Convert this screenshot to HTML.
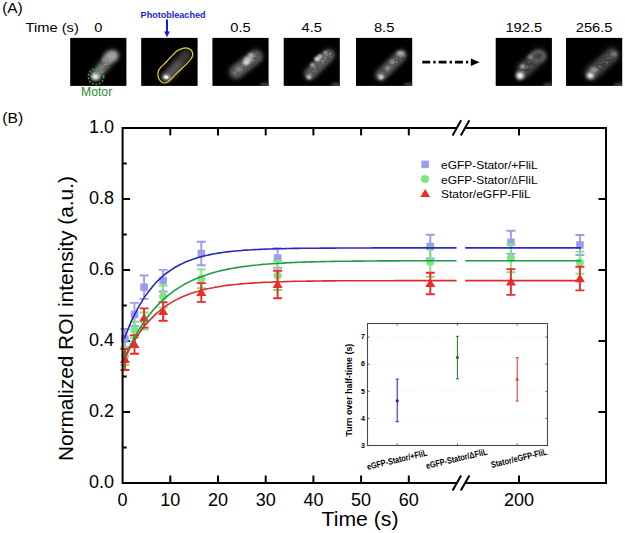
<!DOCTYPE html>
<html><head><meta charset="utf-8"><style>
html,body{margin:0;padding:0;background:#fff;}
svg{display:block;}
text{font-family:"Liberation Sans",sans-serif;fill:#000;}
.tl{font-size:18px;}
.al{font-size:20px;}
.pl{font-size:14px;}
.lg{font-size:11.5px;}
.it{font-size:7px;font-weight:bold;}
.iyl{font-size:9px;font-weight:bold;}
.ixl{font-size:9px;font-weight:bold;}
.pa{font-size:14px;}
.pt{font-size:13px;}
.pb{font-size:8.8px;font-weight:bold;fill:#1e1ec8;}
.mo{font-size:12.4px;fill:#2f8a2f;}
</style></head><body>
<svg width="625" height="533" viewBox="0 0 625 533">
<text transform="translate(2.2,13.4) scale(1.1,1)" class="pa">(A)</text>
<text transform="translate(25.5,31.6) scale(1.13,1)" class="pt">Time (s)</text>
<clipPath id="cp0"><rect x="70.2" y="37.9" width="56.2" height="48"/></clipPath>
<rect x="70.2" y="37.9" width="56.2" height="48" fill="#000"/>
<g clip-path="url(#cp0)">
<line x1="97.0" y1="74.0" x2="113.0" y2="55.0" stroke="#525252" stroke-width="11.0" stroke-linecap="round" style="filter:blur(2.9px)"/>
<line x1="97.0" y1="74.0" x2="113.0" y2="55.0" stroke="#636363" stroke-width="8.2" stroke-linecap="round" style="filter:blur(1.5px)"/>
<g style="filter:blur(0.3px)"><circle cx="104.5" cy="64.3" r="0.6" fill="#c4c4c4"/><circle cx="96.2" cy="75.6" r="0.7" fill="#909090"/><circle cx="99.0" cy="70.5" r="0.4" fill="#737373"/><circle cx="103.8" cy="65.9" r="0.4" fill="#838383"/><circle cx="99.3" cy="70.7" r="0.5" fill="#5f5f5f"/><circle cx="111.9" cy="57.2" r="0.6" fill="#737373"/><circle cx="110.9" cy="60.8" r="0.7" fill="#6d6d6d"/><circle cx="112.6" cy="58.1" r="0.5" fill="#888888"/><circle cx="115.0" cy="58.0" r="0.6" fill="#585858"/><circle cx="94.1" cy="73.5" r="0.7" fill="#616161"/><circle cx="99.1" cy="72.3" r="0.6" fill="#b5b5b5"/><circle cx="102.1" cy="67.0" r="0.6" fill="#bfbfbf"/><circle cx="104.6" cy="63.3" r="0.5" fill="#565656"/><circle cx="97.8" cy="76.2" r="0.7" fill="#808080"/><circle cx="100.5" cy="64.8" r="0.6" fill="#797979"/><circle cx="110.5" cy="58.6" r="0.7" fill="#7c7c7c"/><circle cx="100.9" cy="70.1" r="0.7" fill="#5c5c5c"/><circle cx="112.9" cy="60.1" r="0.7" fill="#6a6a6a"/><circle cx="111.1" cy="57.6" r="0.6" fill="#9b9b9b"/><circle cx="105.0" cy="64.3" r="0.5" fill="#919191"/><circle cx="106.7" cy="64.4" r="0.6" fill="#868686"/><circle cx="93.9" cy="73.5" r="0.4" fill="#6c6c6c"/><circle cx="114.2" cy="58.2" r="0.7" fill="#777777"/><circle cx="98.4" cy="74.2" r="0.5" fill="#585858"/><circle cx="98.7" cy="72.4" r="0.4" fill="#848484"/><circle cx="108.7" cy="59.4" r="0.5" fill="#9b9b9b"/><circle cx="95.0" cy="74.6" r="0.5" fill="#686868"/><circle cx="99.9" cy="74.0" r="0.4" fill="#868686"/><circle cx="108.8" cy="60.7" r="0.4" fill="#dfdfdf"/><circle cx="110.8" cy="57.8" r="0.4" fill="#bbbbbb"/><circle cx="103.6" cy="67.4" r="0.5" fill="#a8a8a8"/><circle cx="95.0" cy="73.3" r="0.7" fill="#9d9d9d"/><circle cx="104.0" cy="71.2" r="0.5" fill="#6c6c6c"/><circle cx="109.0" cy="58.4" r="0.5" fill="#575757"/><circle cx="103.9" cy="60.8" r="0.7" fill="#797979"/><circle cx="109.0" cy="59.9" r="0.5" fill="#929292"/><circle cx="100.7" cy="72.3" r="0.5" fill="#5d5d5d"/><circle cx="98.7" cy="74.6" r="0.5" fill="#808080"/><circle cx="98.0" cy="70.2" r="0.7" fill="#9d9d9d"/><circle cx="99.7" cy="66.3" r="0.6" fill="#7d7d7d"/><circle cx="112.1" cy="53.7" r="0.7" fill="#979797"/><circle cx="110.7" cy="59.2" r="0.7" fill="#818181"/><circle cx="100.4" cy="66.8" r="0.7" fill="#7f7f7f"/><circle cx="113.0" cy="60.0" r="0.5" fill="#5f5f5f"/><circle cx="109.5" cy="57.3" r="0.6" fill="#6b6b6b"/><circle cx="95.2" cy="72.5" r="0.7" fill="#757575"/><circle cx="112.8" cy="54.5" r="0.5" fill="#c6c6c6"/><circle cx="113.8" cy="52.9" r="0.4" fill="#6c6c6c"/><circle cx="101.9" cy="72.0" r="0.4" fill="#919191"/><circle cx="100.1" cy="70.0" r="0.4" fill="#bababa"/><circle cx="106.5" cy="62.0" r="0.5" fill="#636363"/><circle cx="100.4" cy="71.7" r="0.7" fill="#919191"/><circle cx="109.8" cy="61.2" r="0.5" fill="#868686"/><circle cx="99.4" cy="67.3" r="0.4" fill="#565656"/><circle cx="113.9" cy="53.1" r="0.6" fill="#b0b0b0"/><circle cx="112.6" cy="53.8" r="0.5" fill="#7a7a7a"/><circle cx="102.2" cy="68.6" r="0.6" fill="#acacac"/><circle cx="103.2" cy="71.1" r="0.5" fill="#7d7d7d"/><circle cx="98.4" cy="72.4" r="0.7" fill="#6d6d6d"/><circle cx="111.2" cy="52.2" r="0.7" fill="#7a7a7a"/><circle cx="109.8" cy="56.0" r="0.4" fill="#7e7e7e"/><circle cx="116.2" cy="55.9" r="0.6" fill="#5f5f5f"/><circle cx="111.4" cy="56.2" r="0.5" fill="#898989"/><circle cx="96.0" cy="71.5" r="0.7" fill="#636363"/><circle cx="104.0" cy="67.5" r="0.4" fill="#535353"/><circle cx="105.6" cy="63.9" r="0.6" fill="#a1a1a1"/><circle cx="110.3" cy="61.7" r="0.4" fill="#6f6f6f"/><circle cx="102.5" cy="63.2" r="0.5" fill="#696969"/><circle cx="100.5" cy="74.0" r="0.7" fill="#565656"/><circle cx="111.3" cy="62.3" r="0.5" fill="#5f5f5f"/><circle cx="110.3" cy="59.7" r="0.7" fill="#c3c3c3"/><circle cx="114.4" cy="54.5" r="0.4" fill="#787878"/><circle cx="100.1" cy="71.4" r="0.7" fill="#5f5f5f"/><circle cx="110.1" cy="61.7" r="0.5" fill="#747474"/><circle cx="100.3" cy="73.6" r="0.4" fill="#9d9d9d"/><circle cx="111.9" cy="58.3" r="0.5" fill="#bababa"/><circle cx="111.1" cy="51.7" r="0.7" fill="#656565"/><circle cx="109.6" cy="62.1" r="0.5" fill="#a2a2a2"/><circle cx="113.2" cy="53.0" r="0.7" fill="#848484"/><circle cx="97.2" cy="71.0" r="0.4" fill="#a9a9a9"/><circle cx="96.1" cy="71.9" r="0.4" fill="#8f8f8f"/><circle cx="108.2" cy="62.3" r="0.7" fill="#6c6c6c"/><circle cx="101.2" cy="69.7" r="0.5" fill="#ababab"/><circle cx="101.6" cy="71.4" r="0.7" fill="#9c9c9c"/><circle cx="114.4" cy="54.0" r="0.5" fill="#cfcfcf"/><circle cx="110.7" cy="58.8" r="0.5" fill="#7d7d7d"/><circle cx="99.8" cy="75.4" r="0.4" fill="#6f6f6f"/><circle cx="98.0" cy="72.8" r="0.6" fill="#8f8f8f"/><circle cx="103.5" cy="65.5" r="0.5" fill="#909090"/><circle cx="111.8" cy="59.2" r="0.5" fill="#8b8b8b"/><circle cx="114.1" cy="53.2" r="0.7" fill="#949494"/><circle cx="107.5" cy="62.0" r="0.5" fill="#5e5e5e"/><circle cx="102.3" cy="66.6" r="0.5" fill="#c6c6c6"/><circle cx="108.4" cy="64.1" r="0.7" fill="#868686"/><circle cx="106.7" cy="66.2" r="0.6" fill="#797979"/><circle cx="106.8" cy="61.0" r="0.6" fill="#a3a3a3"/><circle cx="115.5" cy="56.3" r="0.7" fill="#787878"/><circle cx="111.9" cy="58.0" r="0.5" fill="#737373"/><circle cx="111.3" cy="56.8" r="0.5" fill="#676767"/><circle cx="107.1" cy="65.8" r="0.5" fill="#5f5f5f"/><circle cx="107.9" cy="59.5" r="0.6" fill="#9e9e9e"/><circle cx="107.0" cy="65.7" r="0.4" fill="#7c7c7c"/><circle cx="111.5" cy="61.6" r="0.5" fill="#626262"/><circle cx="100.3" cy="71.0" r="0.4" fill="#c1c1c1"/><circle cx="110.8" cy="55.1" r="0.4" fill="#b1b1b1"/></g>
<ellipse cx="111.0" cy="56.5" rx="7.0" ry="5.0" fill="#a5a5a5" style="filter:blur(2.2px)"/>
<ellipse cx="106.0" cy="60.0" rx="4.0" ry="3.0" fill="#8c8c8c" style="filter:blur(1.5px)"/>
<ellipse cx="101.0" cy="68.0" rx="3.0" ry="3.0" fill="#787878" style="filter:blur(1.5px)"/>
<ellipse cx="95.5" cy="76.5" rx="5.0" ry="4.2" fill="#a5a5a5" style="filter:blur(1.8px)"/>
<ellipse cx="95.3" cy="76.7" rx="2.6" ry="2.1" fill="#f5f5f5" style="filter:blur(0.9px)"/>
</g>
<circle cx="96" cy="76.6" r="7.8" fill="none" stroke="#2fb52f" stroke-width="1.3" stroke-dasharray="2 1.6"/>
<clipPath id="cp1"><rect x="141.2" y="37.9" width="56.4" height="48"/></clipPath>
<rect x="141.2" y="37.9" width="56.4" height="48" fill="#000"/>
<g clip-path="url(#cp1)">
<line x1="167" y1="77" x2="186" y2="55" stroke="#3a3a3a" stroke-width="11" stroke-linecap="round" style="filter:blur(2.5px)"/>
<line x1="167" y1="77" x2="178" y2="65" stroke="#5a5a5a" stroke-width="7" stroke-linecap="round" style="filter:blur(2px)"/>
<ellipse cx="166.3" cy="77" rx="4" ry="3" fill="#9a9a9a" style="filter:blur(1.3px)"/>
<ellipse cx="166.2" cy="77.2" rx="2.2" ry="1.6" fill="#ffffff" style="filter:blur(0.7px)"/>
</g>
<path d="M158.4,70.9 C157.9,72.3 157.8,74.1 158.0,75.6 C158.2,77.1 158.6,78.5 159.4,79.7 C160.2,80.9 161.7,82.4 163.0,82.8 C164.3,83.2 165.8,83.0 167.2,82.3 C168.6,81.6 169.7,80.3 171.4,78.7 C173.1,77.1 175.3,74.6 177.6,72.4 C179.8,70.2 182.8,67.8 184.9,65.7 C187.0,63.6 188.8,61.7 190.1,60.0 C191.4,58.3 192.4,56.9 192.7,55.3 C192.9,53.7 192.4,51.8 191.6,50.6 C190.8,49.4 189.5,48.7 188.0,48.3 C186.5,47.9 184.5,47.9 182.8,48.3 C181.1,48.7 179.3,49.4 177.6,50.6 C175.9,51.8 174.3,53.4 172.4,55.3 C170.5,57.2 168.1,60.0 166.2,62.0 C164.3,64.0 162.3,65.7 161.0,67.2 C159.7,68.7 158.9,69.5 158.4,70.9 Z" fill="none" stroke="#e2d425" stroke-width="1.2"/>
<clipPath id="cp2"><rect x="212.4" y="37.9" width="56.2" height="48"/></clipPath>
<rect x="212.4" y="37.9" width="56.2" height="48" fill="#000"/>
<g clip-path="url(#cp2)">
<line x1="236.0" y1="72.0" x2="256.0" y2="56.5" stroke="#474747" stroke-width="14.4" stroke-linecap="round" style="filter:blur(2.3px)"/>
<line x1="236.0" y1="72.0" x2="256.0" y2="56.5" stroke="#555555" stroke-width="10.8" stroke-linecap="round" style="filter:blur(1.5px)"/>
<g style="filter:blur(0.3px)"><circle cx="255.9" cy="60.4" r="0.6" fill="#4a4a4a"/><circle cx="249.4" cy="63.4" r="0.6" fill="#545454"/><circle cx="243.5" cy="64.4" r="0.6" fill="#989898"/><circle cx="257.1" cy="56.3" r="0.5" fill="#676767"/><circle cx="257.8" cy="60.0" r="0.6" fill="#5f5f5f"/><circle cx="254.6" cy="62.3" r="0.5" fill="#656565"/><circle cx="254.4" cy="52.2" r="0.7" fill="#4b4b4b"/><circle cx="245.3" cy="65.3" r="0.5" fill="#a6a6a6"/><circle cx="248.7" cy="67.6" r="0.5" fill="#555555"/><circle cx="255.3" cy="56.4" r="0.6" fill="#a3a3a3"/><circle cx="251.3" cy="60.0" r="0.4" fill="#727272"/><circle cx="254.4" cy="54.6" r="0.7" fill="#6d6d6d"/><circle cx="246.2" cy="64.4" r="0.6" fill="#8a8a8a"/><circle cx="239.2" cy="64.8" r="0.6" fill="#626262"/><circle cx="247.9" cy="59.1" r="0.4" fill="#6f6f6f"/><circle cx="236.7" cy="71.8" r="0.7" fill="#696969"/><circle cx="233.7" cy="71.5" r="0.4" fill="#777777"/><circle cx="250.7" cy="64.6" r="0.4" fill="#4b4b4b"/><circle cx="234.3" cy="72.5" r="0.7" fill="#909090"/><circle cx="257.7" cy="59.4" r="0.7" fill="#5e5e5e"/><circle cx="236.0" cy="71.1" r="0.7" fill="#5a5a5a"/><circle cx="247.2" cy="61.6" r="0.6" fill="#535353"/><circle cx="255.1" cy="53.2" r="0.6" fill="#505050"/><circle cx="234.9" cy="73.8" r="0.4" fill="#535353"/><circle cx="232.1" cy="69.5" r="0.4" fill="#484848"/><circle cx="239.1" cy="68.7" r="0.5" fill="#828282"/><circle cx="244.4" cy="66.0" r="0.4" fill="#555555"/><circle cx="246.2" cy="63.5" r="0.5" fill="#8b8b8b"/><circle cx="244.5" cy="65.6" r="0.6" fill="#585858"/><circle cx="244.2" cy="66.0" r="0.4" fill="#5a5a5a"/><circle cx="252.2" cy="57.2" r="0.6" fill="#8b8b8b"/><circle cx="247.0" cy="60.0" r="0.7" fill="#525252"/><circle cx="235.9" cy="75.1" r="0.4" fill="#525252"/><circle cx="255.5" cy="59.7" r="0.4" fill="#5f5f5f"/><circle cx="243.7" cy="65.8" r="0.4" fill="#8b8b8b"/><circle cx="234.1" cy="70.0" r="0.5" fill="#767676"/><circle cx="237.9" cy="74.7" r="0.4" fill="#565656"/><circle cx="243.1" cy="65.9" r="0.7" fill="#747474"/><circle cx="233.9" cy="67.4" r="0.4" fill="#484848"/><circle cx="252.0" cy="64.1" r="0.6" fill="#4d4d4d"/><circle cx="242.2" cy="66.5" r="0.7" fill="#686868"/><circle cx="246.5" cy="63.5" r="0.7" fill="#9d9d9d"/><circle cx="243.8" cy="62.0" r="0.5" fill="#606060"/><circle cx="256.7" cy="57.3" r="0.7" fill="#525252"/><circle cx="251.5" cy="62.9" r="0.5" fill="#626262"/><circle cx="237.0" cy="71.9" r="0.7" fill="#949494"/><circle cx="236.4" cy="71.9" r="0.6" fill="#6b6b6b"/><circle cx="255.2" cy="56.5" r="0.6" fill="#757575"/><circle cx="238.4" cy="70.3" r="0.5" fill="#7a7a7a"/><circle cx="255.7" cy="53.9" r="0.6" fill="#6e6e6e"/><circle cx="245.0" cy="67.8" r="0.7" fill="#6d6d6d"/><circle cx="234.0" cy="73.0" r="0.6" fill="#a1a1a1"/><circle cx="252.1" cy="64.7" r="0.4" fill="#5c5c5c"/><circle cx="252.4" cy="61.1" r="0.7" fill="#8f8f8f"/><circle cx="252.5" cy="60.6" r="0.4" fill="#8d8d8d"/><circle cx="238.2" cy="72.1" r="0.5" fill="#5b5b5b"/><circle cx="247.3" cy="62.7" r="0.4" fill="#a9a9a9"/><circle cx="251.8" cy="63.9" r="0.5" fill="#5c5c5c"/><circle cx="237.9" cy="74.7" r="0.4" fill="#616161"/><circle cx="252.1" cy="58.0" r="0.6" fill="#8a8a8a"/><circle cx="243.5" cy="62.8" r="0.4" fill="#606060"/><circle cx="256.1" cy="54.2" r="0.6" fill="#616161"/><circle cx="245.9" cy="64.9" r="0.7" fill="#575757"/><circle cx="252.2" cy="56.2" r="0.6" fill="#727272"/><circle cx="248.8" cy="60.3" r="0.7" fill="#4f4f4f"/><circle cx="248.3" cy="60.7" r="0.6" fill="#8b8b8b"/><circle cx="254.2" cy="60.0" r="0.5" fill="#575757"/><circle cx="242.9" cy="62.3" r="0.5" fill="#6a6a6a"/><circle cx="243.0" cy="63.2" r="0.7" fill="#777777"/><circle cx="245.7" cy="66.8" r="0.7" fill="#5c5c5c"/><circle cx="234.3" cy="69.0" r="0.4" fill="#5b5b5b"/><circle cx="241.8" cy="65.1" r="0.7" fill="#545454"/><circle cx="254.5" cy="59.9" r="0.5" fill="#838383"/><circle cx="242.0" cy="69.4" r="0.6" fill="#626262"/><circle cx="248.6" cy="68.7" r="0.4" fill="#484848"/><circle cx="244.9" cy="60.8" r="0.7" fill="#4a4a4a"/><circle cx="241.9" cy="69.7" r="0.4" fill="#5b5b5b"/><circle cx="239.4" cy="68.1" r="0.5" fill="#686868"/><circle cx="237.9" cy="66.3" r="0.6" fill="#474747"/><circle cx="253.9" cy="57.0" r="0.7" fill="#575757"/><circle cx="249.3" cy="67.4" r="0.5" fill="#4c4c4c"/><circle cx="247.8" cy="61.1" r="0.7" fill="#676767"/><circle cx="246.3" cy="66.0" r="0.5" fill="#888888"/><circle cx="249.0" cy="63.3" r="0.6" fill="#9c9c9c"/><circle cx="235.4" cy="70.0" r="0.4" fill="#4d4d4d"/><circle cx="233.0" cy="69.6" r="0.5" fill="#535353"/><circle cx="253.3" cy="53.0" r="0.4" fill="#515151"/><circle cx="243.8" cy="64.8" r="0.5" fill="#909090"/><circle cx="254.0" cy="59.1" r="0.5" fill="#666666"/><circle cx="252.0" cy="62.2" r="0.4" fill="#696969"/><circle cx="236.4" cy="66.7" r="0.6" fill="#4f4f4f"/><circle cx="250.9" cy="64.4" r="0.6" fill="#535353"/><circle cx="237.3" cy="75.4" r="0.7" fill="#626262"/><circle cx="249.6" cy="62.2" r="0.4" fill="#a5a5a5"/><circle cx="256.2" cy="57.5" r="0.5" fill="#707070"/><circle cx="250.9" cy="59.7" r="0.6" fill="#5a5a5a"/><circle cx="242.3" cy="67.7" r="0.5" fill="#808080"/><circle cx="253.8" cy="53.3" r="0.7" fill="#535353"/><circle cx="252.5" cy="58.4" r="0.5" fill="#6d6d6d"/><circle cx="243.4" cy="62.2" r="0.4" fill="#525252"/><circle cx="238.4" cy="69.7" r="0.6" fill="#6d6d6d"/><circle cx="238.9" cy="71.5" r="0.7" fill="#595959"/><circle cx="250.0" cy="63.7" r="0.7" fill="#737373"/><circle cx="239.7" cy="65.1" r="0.6" fill="#4b4b4b"/><circle cx="243.9" cy="64.5" r="0.7" fill="#4c4c4c"/><circle cx="249.4" cy="61.5" r="0.7" fill="#acacac"/><circle cx="236.0" cy="68.7" r="0.7" fill="#797979"/><circle cx="240.5" cy="71.9" r="0.7" fill="#626262"/><circle cx="251.0" cy="60.7" r="0.4" fill="#666666"/><circle cx="236.8" cy="74.1" r="0.4" fill="#6d6d6d"/><circle cx="242.9" cy="65.6" r="0.7" fill="#6f6f6f"/><circle cx="244.4" cy="63.5" r="0.4" fill="#575757"/><circle cx="249.3" cy="66.9" r="0.4" fill="#5c5c5c"/><circle cx="253.4" cy="59.8" r="0.6" fill="#898989"/><circle cx="236.0" cy="69.1" r="0.6" fill="#696969"/><circle cx="237.4" cy="73.7" r="0.5" fill="#494949"/><circle cx="242.7" cy="69.4" r="0.5" fill="#858585"/><circle cx="241.3" cy="65.3" r="0.7" fill="#6d6d6d"/><circle cx="238.8" cy="74.5" r="0.5" fill="#656565"/><circle cx="251.7" cy="64.8" r="0.7" fill="#484848"/><circle cx="235.6" cy="75.2" r="0.7" fill="#727272"/><circle cx="243.8" cy="64.6" r="0.7" fill="#585858"/><circle cx="235.8" cy="73.7" r="0.7" fill="#8d8d8d"/><circle cx="246.6" cy="64.2" r="0.5" fill="#a6a6a6"/><circle cx="236.5" cy="70.4" r="0.5" fill="#6b6b6b"/><circle cx="257.9" cy="56.2" r="0.6" fill="#717171"/><circle cx="238.6" cy="71.5" r="0.4" fill="#666666"/><circle cx="236.2" cy="75.2" r="0.7" fill="#656565"/><circle cx="245.7" cy="60.4" r="0.5" fill="#515151"/><circle cx="242.3" cy="63.3" r="0.4" fill="#676767"/><circle cx="249.1" cy="64.9" r="0.4" fill="#6e6e6e"/><circle cx="245.5" cy="70.3" r="0.5" fill="#474747"/></g>
<ellipse cx="248.0" cy="59.5" rx="4.0" ry="3.0" fill="#bebebe" style="filter:blur(1.2px)"/>
<ellipse cx="246.0" cy="62.6" rx="3.0" ry="2.5" fill="#d7d7d7" style="filter:blur(1.0px)"/>
<ellipse cx="251.0" cy="55.5" rx="3.0" ry="2.5" fill="#afafaf" style="filter:blur(1.0px)"/>
<ellipse cx="239.0" cy="69.0" rx="3.0" ry="3.0" fill="#828282" style="filter:blur(1.2px)"/>
<ellipse cx="265.6" cy="85" rx="6" ry="2.5" fill="#3a3a3a" style="filter:blur(1.2px)"/>
</g>
<clipPath id="cp3"><rect x="283.7" y="37.9" width="56.1" height="48"/></clipPath>
<rect x="283.7" y="37.9" width="56.1" height="48" fill="#000"/>
<g clip-path="url(#cp3)">
<line x1="310.0" y1="74.0" x2="329.0" y2="55.0" stroke="#474747" stroke-width="12.4" stroke-linecap="round" style="filter:blur(2.1px)"/>
<line x1="310.0" y1="74.0" x2="329.0" y2="55.0" stroke="#555555" stroke-width="9.3" stroke-linecap="round" style="filter:blur(1.5px)"/>
<g style="filter:blur(0.3px)"><circle cx="313.9" cy="70.8" r="0.5" fill="#858585"/><circle cx="311.9" cy="67.9" r="0.7" fill="#4e4e4e"/><circle cx="327.0" cy="56.6" r="0.6" fill="#606060"/><circle cx="327.5" cy="62.5" r="0.6" fill="#4b4b4b"/><circle cx="319.5" cy="69.3" r="0.5" fill="#606060"/><circle cx="329.6" cy="53.4" r="0.6" fill="#676767"/><circle cx="318.8" cy="63.4" r="0.5" fill="#757575"/><circle cx="322.1" cy="57.3" r="0.7" fill="#4f4f4f"/><circle cx="311.9" cy="70.7" r="0.6" fill="#565656"/><circle cx="312.0" cy="77.8" r="0.5" fill="#4f4f4f"/><circle cx="327.6" cy="54.5" r="0.5" fill="#6e6e6e"/><circle cx="323.5" cy="62.0" r="0.6" fill="#7c7c7c"/><circle cx="329.6" cy="54.5" r="0.5" fill="#999999"/><circle cx="311.9" cy="68.9" r="0.7" fill="#5f5f5f"/><circle cx="309.5" cy="76.4" r="0.6" fill="#4b4b4b"/><circle cx="322.1" cy="61.3" r="0.6" fill="#717171"/><circle cx="320.2" cy="61.0" r="0.5" fill="#545454"/><circle cx="317.3" cy="68.2" r="0.5" fill="#686868"/><circle cx="311.9" cy="71.1" r="0.6" fill="#565656"/><circle cx="314.1" cy="67.2" r="0.7" fill="#5f5f5f"/><circle cx="325.0" cy="53.8" r="0.5" fill="#4a4a4a"/><circle cx="327.9" cy="55.3" r="0.4" fill="#595959"/><circle cx="317.7" cy="61.4" r="0.7" fill="#595959"/><circle cx="310.5" cy="70.0" r="0.7" fill="#626262"/><circle cx="325.3" cy="56.3" r="0.4" fill="#575757"/><circle cx="324.4" cy="56.0" r="0.5" fill="#525252"/><circle cx="317.0" cy="65.6" r="0.7" fill="#565656"/><circle cx="330.2" cy="56.8" r="0.7" fill="#797979"/><circle cx="329.2" cy="56.0" r="0.4" fill="#8a8a8a"/><circle cx="310.4" cy="70.4" r="0.6" fill="#5f5f5f"/><circle cx="316.7" cy="73.0" r="0.5" fill="#494949"/><circle cx="313.7" cy="65.5" r="0.6" fill="#595959"/><circle cx="314.3" cy="74.3" r="0.7" fill="#5b5b5b"/><circle cx="307.4" cy="73.0" r="0.5" fill="#595959"/><circle cx="317.5" cy="66.0" r="0.7" fill="#525252"/><circle cx="313.8" cy="67.2" r="0.5" fill="#6a6a6a"/><circle cx="320.4" cy="61.4" r="0.4" fill="#5c5c5c"/><circle cx="311.4" cy="73.5" r="0.6" fill="#6f6f6f"/><circle cx="307.4" cy="71.5" r="0.5" fill="#4a4a4a"/><circle cx="325.0" cy="57.1" r="0.7" fill="#777777"/><circle cx="316.9" cy="65.1" r="0.5" fill="#7b7b7b"/><circle cx="319.2" cy="67.8" r="0.5" fill="#4d4d4d"/><circle cx="321.9" cy="65.2" r="0.4" fill="#595959"/><circle cx="330.9" cy="57.7" r="0.5" fill="#494949"/><circle cx="313.4" cy="75.6" r="0.6" fill="#5a5a5a"/><circle cx="327.5" cy="59.2" r="0.6" fill="#686868"/><circle cx="311.1" cy="74.2" r="0.4" fill="#565656"/><circle cx="325.6" cy="53.3" r="0.4" fill="#565656"/><circle cx="313.6" cy="75.8" r="0.6" fill="#505050"/><circle cx="330.4" cy="54.8" r="0.7" fill="#4e4e4e"/><circle cx="325.7" cy="58.5" r="0.6" fill="#5e5e5e"/><circle cx="314.7" cy="71.1" r="0.7" fill="#656565"/><circle cx="315.7" cy="66.7" r="0.5" fill="#6a6a6a"/><circle cx="310.0" cy="74.0" r="0.7" fill="#7d7d7d"/><circle cx="322.5" cy="56.2" r="0.6" fill="#4d4d4d"/><circle cx="323.6" cy="60.7" r="0.5" fill="#8f8f8f"/><circle cx="325.8" cy="52.7" r="0.4" fill="#4a4a4a"/><circle cx="329.1" cy="55.1" r="0.5" fill="#969696"/><circle cx="310.5" cy="69.8" r="0.4" fill="#5c5c5c"/><circle cx="313.2" cy="66.6" r="0.6" fill="#696969"/><circle cx="316.5" cy="70.8" r="0.5" fill="#737373"/><circle cx="318.1" cy="64.0" r="0.4" fill="#626262"/><circle cx="317.6" cy="70.7" r="0.4" fill="#6a6a6a"/><circle cx="319.8" cy="65.7" r="0.5" fill="#8d8d8d"/><circle cx="327.3" cy="57.6" r="0.5" fill="#8d8d8d"/><circle cx="326.8" cy="55.6" r="0.6" fill="#979797"/><circle cx="316.6" cy="63.1" r="0.4" fill="#5b5b5b"/><circle cx="310.5" cy="69.7" r="0.4" fill="#616161"/><circle cx="314.6" cy="68.1" r="0.6" fill="#525252"/><circle cx="322.7" cy="64.1" r="0.4" fill="#565656"/><circle cx="317.9" cy="65.8" r="0.4" fill="#8a8a8a"/><circle cx="329.0" cy="53.3" r="0.6" fill="#515151"/><circle cx="315.7" cy="70.9" r="0.4" fill="#808080"/><circle cx="327.7" cy="60.3" r="0.5" fill="#5c5c5c"/><circle cx="325.4" cy="63.4" r="0.5" fill="#555555"/><circle cx="331.4" cy="55.3" r="0.6" fill="#474747"/><circle cx="318.2" cy="63.5" r="0.6" fill="#757575"/><circle cx="318.5" cy="60.5" r="0.6" fill="#4c4c4c"/><circle cx="326.5" cy="51.8" r="0.5" fill="#474747"/><circle cx="322.2" cy="62.7" r="0.6" fill="#767676"/><circle cx="312.7" cy="66.2" r="0.4" fill="#4f4f4f"/><circle cx="325.6" cy="59.0" r="0.6" fill="#707070"/><circle cx="313.2" cy="68.9" r="0.7" fill="#494949"/><circle cx="317.6" cy="62.4" r="0.7" fill="#4a4a4a"/><circle cx="314.9" cy="67.5" r="0.6" fill="#888888"/><circle cx="309.9" cy="69.2" r="0.5" fill="#535353"/><circle cx="314.8" cy="64.4" r="0.6" fill="#4b4b4b"/><circle cx="321.4" cy="64.0" r="0.6" fill="#9c9c9c"/><circle cx="322.2" cy="58.7" r="0.7" fill="#5c5c5c"/><circle cx="323.6" cy="64.0" r="0.4" fill="#696969"/><circle cx="323.1" cy="60.7" r="0.6" fill="#808080"/><circle cx="312.7" cy="71.7" r="0.4" fill="#7f7f7f"/><circle cx="322.4" cy="60.7" r="0.6" fill="#a2a2a2"/><circle cx="308.1" cy="73.6" r="0.4" fill="#494949"/><circle cx="330.9" cy="56.5" r="0.6" fill="#505050"/><circle cx="325.2" cy="58.5" r="0.4" fill="#575757"/><circle cx="307.5" cy="71.8" r="0.4" fill="#494949"/><circle cx="324.3" cy="60.3" r="0.5" fill="#8b8b8b"/><circle cx="314.8" cy="68.7" r="0.7" fill="#757575"/><circle cx="316.8" cy="67.7" r="0.6" fill="#666666"/><circle cx="311.9" cy="72.0" r="0.4" fill="#565656"/><circle cx="317.6" cy="65.0" r="0.6" fill="#4d4d4d"/><circle cx="316.5" cy="65.9" r="0.4" fill="#969696"/><circle cx="322.9" cy="57.5" r="0.7" fill="#565656"/><circle cx="327.8" cy="53.1" r="0.4" fill="#4d4d4d"/><circle cx="327.7" cy="58.3" r="0.5" fill="#4c4c4c"/><circle cx="310.5" cy="75.9" r="0.7" fill="#505050"/><circle cx="330.1" cy="53.5" r="0.7" fill="#a7a7a7"/><circle cx="309.8" cy="72.4" r="0.5" fill="#7d7d7d"/><circle cx="326.7" cy="52.2" r="0.6" fill="#4f4f4f"/><circle cx="327.6" cy="57.3" r="0.7" fill="#6e6e6e"/><circle cx="315.4" cy="64.3" r="0.7" fill="#4e4e4e"/><circle cx="311.6" cy="67.2" r="0.6" fill="#484848"/><circle cx="323.4" cy="58.8" r="0.5" fill="#535353"/><circle cx="330.4" cy="57.3" r="0.5" fill="#4e4e4e"/><circle cx="308.9" cy="73.5" r="0.7" fill="#515151"/><circle cx="313.6" cy="71.4" r="0.5" fill="#919191"/><circle cx="309.8" cy="73.7" r="0.4" fill="#9c9c9c"/><circle cx="323.3" cy="63.0" r="0.7" fill="#858585"/><circle cx="316.8" cy="68.8" r="0.5" fill="#515151"/><circle cx="327.9" cy="57.6" r="0.7" fill="#5a5a5a"/><circle cx="320.1" cy="63.3" r="0.6" fill="#575757"/><circle cx="315.9" cy="67.9" r="0.4" fill="#878787"/><circle cx="324.3" cy="58.5" r="0.6" fill="#7f7f7f"/><circle cx="311.8" cy="69.8" r="0.7" fill="#5b5b5b"/><circle cx="331.1" cy="56.5" r="0.7" fill="#777777"/><circle cx="325.0" cy="57.5" r="0.7" fill="#959595"/><circle cx="322.9" cy="57.8" r="0.6" fill="#656565"/><circle cx="311.0" cy="76.9" r="0.5" fill="#505050"/><circle cx="317.9" cy="69.9" r="0.6" fill="#484848"/><circle cx="313.7" cy="74.5" r="0.6" fill="#6c6c6c"/><circle cx="314.9" cy="68.5" r="0.6" fill="#818181"/><circle cx="325.4" cy="58.1" r="0.7" fill="#989898"/></g>
<ellipse cx="317.3" cy="58.9" rx="3.0" ry="2.3" fill="#dcdcdc" style="filter:blur(1.0px)"/>
<ellipse cx="320.0" cy="56.3" rx="2.4" ry="2.0" fill="#c8c8c8" style="filter:blur(1.0px)"/>
<ellipse cx="312.4" cy="65.0" rx="2.2" ry="2.0" fill="#b9b9b9" style="filter:blur(1.0px)"/>
<ellipse cx="309.0" cy="77.0" rx="2.5" ry="2.2" fill="#cdcdcd" style="filter:blur(1.0px)"/>
<ellipse cx="325.5" cy="52.8" rx="2.2" ry="2.0" fill="#a5a5a5" style="filter:blur(1.0px)"/>
<ellipse cx="336.8" cy="85" rx="6" ry="2.5" fill="#3a3a3a" style="filter:blur(1.2px)"/>
</g>
<clipPath id="cp4"><rect x="356.0" y="37.9" width="56.2" height="48"/></clipPath>
<rect x="356.0" y="37.9" width="56.2" height="48" fill="#000"/>
<g clip-path="url(#cp4)">
<line x1="381.0" y1="75.0" x2="401.0" y2="55.5" stroke="#434343" stroke-width="12.4" stroke-linecap="round" style="filter:blur(2.1px)"/>
<line x1="381.0" y1="75.0" x2="401.0" y2="55.5" stroke="#515151" stroke-width="9.3" stroke-linecap="round" style="filter:blur(1.5px)"/>
<g style="filter:blur(0.3px)"><circle cx="379.8" cy="74.6" r="0.7" fill="#868686"/><circle cx="380.1" cy="69.8" r="0.4" fill="#454545"/><circle cx="387.4" cy="70.7" r="0.6" fill="#838383"/><circle cx="401.4" cy="56.3" r="0.7" fill="#909090"/><circle cx="390.5" cy="64.4" r="0.6" fill="#6a6a6a"/><circle cx="381.1" cy="76.9" r="0.5" fill="#6b6b6b"/><circle cx="389.1" cy="64.7" r="0.7" fill="#4c4c4c"/><circle cx="389.5" cy="70.6" r="0.5" fill="#545454"/><circle cx="398.3" cy="60.0" r="0.4" fill="#5d5d5d"/><circle cx="382.9" cy="72.5" r="0.4" fill="#8a8a8a"/><circle cx="377.8" cy="74.8" r="0.7" fill="#6a6a6a"/><circle cx="396.9" cy="58.1" r="0.7" fill="#6d6d6d"/><circle cx="384.1" cy="70.6" r="0.4" fill="#696969"/><circle cx="401.8" cy="55.8" r="0.7" fill="#6b6b6b"/><circle cx="401.8" cy="57.1" r="0.7" fill="#757575"/><circle cx="399.3" cy="59.4" r="0.7" fill="#676767"/><circle cx="396.2" cy="63.1" r="0.5" fill="#7a7a7a"/><circle cx="403.5" cy="55.6" r="0.4" fill="#484848"/><circle cx="394.8" cy="62.6" r="0.6" fill="#989898"/><circle cx="400.5" cy="56.8" r="0.7" fill="#5c5c5c"/><circle cx="393.8" cy="59.9" r="0.7" fill="#737373"/><circle cx="390.5" cy="66.1" r="0.4" fill="#505050"/><circle cx="393.2" cy="62.9" r="0.7" fill="#898989"/><circle cx="381.3" cy="72.6" r="0.7" fill="#686868"/><circle cx="391.1" cy="63.3" r="0.7" fill="#5b5b5b"/><circle cx="384.5" cy="71.4" r="0.7" fill="#585858"/><circle cx="382.7" cy="75.2" r="0.7" fill="#6a6a6a"/><circle cx="397.8" cy="53.9" r="0.5" fill="#575757"/><circle cx="391.5" cy="69.4" r="0.4" fill="#5b5b5b"/><circle cx="386.8" cy="70.0" r="0.5" fill="#8b8b8b"/><circle cx="389.6" cy="70.7" r="0.7" fill="#545454"/><circle cx="396.1" cy="62.0" r="0.5" fill="#8c8c8c"/><circle cx="398.8" cy="59.4" r="0.5" fill="#4e4e4e"/><circle cx="396.4" cy="57.8" r="0.6" fill="#4a4a4a"/><circle cx="399.6" cy="54.8" r="0.6" fill="#5c5c5c"/><circle cx="384.5" cy="74.0" r="0.5" fill="#545454"/><circle cx="393.0" cy="63.2" r="0.6" fill="#a9a9a9"/><circle cx="397.1" cy="63.1" r="0.6" fill="#656565"/><circle cx="402.1" cy="57.6" r="0.5" fill="#474747"/><circle cx="387.8" cy="70.3" r="0.7" fill="#878787"/><circle cx="387.8" cy="66.8" r="0.7" fill="#5c5c5c"/><circle cx="396.5" cy="61.6" r="0.5" fill="#8e8e8e"/><circle cx="391.3" cy="59.6" r="0.4" fill="#545454"/><circle cx="379.3" cy="72.9" r="0.4" fill="#6c6c6c"/><circle cx="395.7" cy="61.4" r="0.7" fill="#626262"/><circle cx="383.6" cy="66.5" r="0.4" fill="#4c4c4c"/><circle cx="393.9" cy="65.4" r="0.6" fill="#5f5f5f"/><circle cx="389.8" cy="69.2" r="0.7" fill="#515151"/><circle cx="387.7" cy="67.3" r="0.4" fill="#929292"/><circle cx="401.9" cy="59.7" r="0.4" fill="#454545"/><circle cx="392.1" cy="67.5" r="0.4" fill="#6b6b6b"/><circle cx="404.5" cy="55.3" r="0.7" fill="#767676"/><circle cx="382.5" cy="75.4" r="0.7" fill="#5a5a5a"/><circle cx="392.3" cy="60.2" r="0.7" fill="#5b5b5b"/><circle cx="402.1" cy="60.6" r="0.7" fill="#444444"/><circle cx="396.3" cy="63.1" r="0.6" fill="#5c5c5c"/><circle cx="401.6" cy="52.7" r="0.4" fill="#747474"/><circle cx="391.3" cy="65.7" r="0.6" fill="#616161"/><circle cx="392.7" cy="57.6" r="0.7" fill="#444444"/><circle cx="387.7" cy="62.9" r="0.5" fill="#4d4d4d"/><circle cx="399.5" cy="60.1" r="0.5" fill="#434343"/><circle cx="396.4" cy="58.5" r="0.6" fill="#8b8b8b"/><circle cx="387.6" cy="70.4" r="0.5" fill="#6a6a6a"/><circle cx="377.9" cy="74.4" r="0.5" fill="#6c6c6c"/><circle cx="384.2" cy="75.9" r="0.4" fill="#6b6b6b"/><circle cx="386.8" cy="68.6" r="0.7" fill="#5a5a5a"/><circle cx="387.5" cy="74.0" r="0.4" fill="#545454"/><circle cx="386.6" cy="70.5" r="0.6" fill="#979797"/><circle cx="383.5" cy="77.9" r="0.4" fill="#474747"/><circle cx="378.5" cy="74.7" r="0.5" fill="#818181"/><circle cx="392.5" cy="61.7" r="0.7" fill="#4d4d4d"/><circle cx="382.1" cy="73.6" r="0.6" fill="#808080"/><circle cx="389.6" cy="70.4" r="0.7" fill="#616161"/><circle cx="389.3" cy="70.1" r="0.7" fill="#444444"/><circle cx="386.1" cy="75.1" r="0.6" fill="#575757"/><circle cx="387.1" cy="68.2" r="0.4" fill="#4d4d4d"/><circle cx="386.5" cy="70.5" r="0.7" fill="#747474"/><circle cx="402.6" cy="54.4" r="0.4" fill="#868686"/><circle cx="394.2" cy="63.7" r="0.6" fill="#464646"/><circle cx="381.7" cy="71.0" r="0.5" fill="#4b4b4b"/><circle cx="391.7" cy="59.5" r="0.5" fill="#494949"/><circle cx="387.3" cy="69.4" r="0.6" fill="#6d6d6d"/><circle cx="400.9" cy="57.1" r="0.7" fill="#515151"/><circle cx="396.8" cy="61.1" r="0.4" fill="#888888"/><circle cx="393.9" cy="63.2" r="0.5" fill="#505050"/><circle cx="387.3" cy="71.9" r="0.7" fill="#767676"/><circle cx="385.3" cy="69.6" r="0.4" fill="#737373"/><circle cx="380.3" cy="74.5" r="0.7" fill="#5f5f5f"/><circle cx="377.5" cy="75.2" r="0.6" fill="#535353"/><circle cx="382.3" cy="75.9" r="0.6" fill="#6f6f6f"/><circle cx="391.6" cy="65.4" r="0.6" fill="#505050"/><circle cx="386.6" cy="63.8" r="0.4" fill="#454545"/><circle cx="385.5" cy="68.1" r="0.5" fill="#686868"/><circle cx="382.9" cy="75.3" r="0.4" fill="#888888"/><circle cx="384.9" cy="75.4" r="0.6" fill="#484848"/><circle cx="385.2" cy="68.7" r="0.7" fill="#676767"/><circle cx="391.8" cy="66.9" r="0.6" fill="#696969"/><circle cx="390.3" cy="61.2" r="0.7" fill="#4f4f4f"/><circle cx="384.9" cy="68.4" r="0.5" fill="#505050"/><circle cx="383.9" cy="71.9" r="0.5" fill="#717171"/><circle cx="393.5" cy="59.9" r="0.7" fill="#717171"/><circle cx="380.3" cy="78.1" r="0.6" fill="#4e4e4e"/><circle cx="402.3" cy="53.2" r="0.6" fill="#797979"/><circle cx="401.2" cy="52.9" r="0.5" fill="#707070"/><circle cx="378.0" cy="75.8" r="0.7" fill="#6c6c6c"/><circle cx="378.0" cy="74.6" r="0.4" fill="#545454"/><circle cx="398.7" cy="61.7" r="0.7" fill="#444444"/><circle cx="398.1" cy="64.4" r="0.5" fill="#464646"/><circle cx="400.6" cy="59.2" r="0.5" fill="#666666"/><circle cx="400.7" cy="57.0" r="0.6" fill="#969696"/><circle cx="384.5" cy="69.0" r="0.4" fill="#7c7c7c"/><circle cx="395.5" cy="63.6" r="0.4" fill="#494949"/><circle cx="391.7" cy="69.9" r="0.4" fill="#4f4f4f"/><circle cx="380.8" cy="78.3" r="0.7" fill="#585858"/><circle cx="395.1" cy="57.8" r="0.4" fill="#4d4d4d"/><circle cx="387.1" cy="72.5" r="0.6" fill="#616161"/><circle cx="404.5" cy="56.3" r="0.7" fill="#666666"/><circle cx="403.2" cy="57.1" r="0.5" fill="#525252"/><circle cx="399.4" cy="61.6" r="0.7" fill="#565656"/></g>
<ellipse cx="381.0" cy="77.0" rx="2.8" ry="2.4" fill="#d2d2d2" style="filter:blur(1.0px)"/>
<ellipse cx="400.5" cy="53.5" rx="4.0" ry="2.5" fill="#aaaaaa" style="filter:blur(1.3px)"/>
<ellipse cx="388.0" cy="68.0" rx="2.5" ry="2.0" fill="#a0a0a0" style="filter:blur(1.2px)"/>
<ellipse cx="392.0" cy="62.0" rx="2.5" ry="2.0" fill="#969696" style="filter:blur(1.2px)"/>
<ellipse cx="409.2" cy="85" rx="6" ry="2.5" fill="#3a3a3a" style="filter:blur(1.2px)"/>
</g>
<clipPath id="cp5"><rect x="495.7" y="37.9" width="56.2" height="48"/></clipPath>
<rect x="495.7" y="37.9" width="56.2" height="48" fill="#000"/>
<g clip-path="url(#cp5)">
<line x1="524.0" y1="70.0" x2="539.0" y2="56.0" stroke="#343434" stroke-width="15.6" stroke-linecap="round" style="filter:blur(2.6px)"/>
<line x1="524.0" y1="70.0" x2="539.0" y2="56.0" stroke="#3f3f3f" stroke-width="11.7" stroke-linecap="round" style="filter:blur(1.5px)"/>
<g style="filter:blur(0.3px)"><circle cx="536.0" cy="63.4" r="0.7" fill="#616161"/><circle cx="540.9" cy="57.1" r="0.7" fill="#393939"/><circle cx="528.5" cy="60.9" r="0.6" fill="#494949"/><circle cx="520.0" cy="68.3" r="0.5" fill="#565656"/><circle cx="530.0" cy="57.2" r="0.4" fill="#404040"/><circle cx="523.5" cy="65.0" r="0.7" fill="#545454"/><circle cx="530.4" cy="72.5" r="0.6" fill="#343434"/><circle cx="536.7" cy="54.3" r="0.5" fill="#373737"/><circle cx="524.3" cy="73.2" r="0.5" fill="#434343"/><circle cx="537.0" cy="57.5" r="0.5" fill="#6a6a6a"/><circle cx="539.3" cy="62.3" r="0.4" fill="#424242"/><circle cx="529.8" cy="66.1" r="0.4" fill="#3b3b3b"/><circle cx="534.6" cy="65.4" r="0.4" fill="#4f4f4f"/><circle cx="540.3" cy="61.7" r="0.4" fill="#464646"/><circle cx="522.6" cy="68.2" r="0.6" fill="#737373"/><circle cx="540.6" cy="55.2" r="0.5" fill="#515151"/><circle cx="536.3" cy="64.8" r="0.5" fill="#343434"/><circle cx="534.1" cy="53.5" r="0.6" fill="#444444"/><circle cx="536.6" cy="63.8" r="0.4" fill="#3b3b3b"/><circle cx="533.5" cy="65.6" r="0.5" fill="#3b3b3b"/><circle cx="526.4" cy="61.0" r="0.5" fill="#4a4a4a"/><circle cx="541.0" cy="56.6" r="0.5" fill="#4d4d4d"/><circle cx="521.9" cy="67.6" r="0.7" fill="#606060"/><circle cx="531.7" cy="68.3" r="0.7" fill="#4a4a4a"/><circle cx="536.9" cy="62.9" r="0.5" fill="#4f4f4f"/><circle cx="527.4" cy="66.5" r="0.7" fill="#7e7e7e"/><circle cx="523.2" cy="71.7" r="0.5" fill="#767676"/><circle cx="533.9" cy="66.9" r="0.6" fill="#494949"/><circle cx="530.1" cy="67.0" r="0.6" fill="#6f6f6f"/><circle cx="532.1" cy="69.0" r="0.7" fill="#3e3e3e"/><circle cx="528.7" cy="72.1" r="0.7" fill="#353535"/><circle cx="537.1" cy="62.0" r="0.6" fill="#353535"/><circle cx="537.3" cy="59.1" r="0.6" fill="#5a5a5a"/><circle cx="536.4" cy="63.7" r="0.6" fill="#4d4d4d"/><circle cx="519.7" cy="67.4" r="0.5" fill="#3d3d3d"/><circle cx="529.7" cy="62.4" r="0.6" fill="#626262"/><circle cx="526.7" cy="65.8" r="0.4" fill="#7b7b7b"/><circle cx="530.8" cy="60.6" r="0.6" fill="#757575"/><circle cx="536.5" cy="56.8" r="0.7" fill="#6d6d6d"/><circle cx="525.7" cy="61.5" r="0.6" fill="#363636"/><circle cx="530.1" cy="57.4" r="0.6" fill="#444444"/><circle cx="528.6" cy="64.4" r="0.4" fill="#515151"/><circle cx="538.9" cy="53.8" r="0.7" fill="#7b7b7b"/><circle cx="530.9" cy="58.9" r="0.7" fill="#464646"/><circle cx="528.2" cy="62.6" r="0.7" fill="#505050"/><circle cx="527.4" cy="66.4" r="0.4" fill="#767676"/><circle cx="528.5" cy="61.8" r="0.7" fill="#626262"/><circle cx="523.0" cy="71.5" r="0.5" fill="#919191"/><circle cx="538.3" cy="52.7" r="0.6" fill="#4a4a4a"/><circle cx="535.1" cy="61.6" r="0.6" fill="#3e3e3e"/><circle cx="534.3" cy="56.6" r="0.6" fill="#424242"/><circle cx="528.1" cy="66.7" r="0.5" fill="#5d5d5d"/><circle cx="536.8" cy="59.8" r="0.4" fill="#4b4b4b"/><circle cx="525.4" cy="74.0" r="0.5" fill="#444444"/><circle cx="536.5" cy="60.9" r="0.5" fill="#787878"/><circle cx="528.4" cy="63.8" r="0.7" fill="#444444"/><circle cx="531.0" cy="69.8" r="0.4" fill="#484848"/><circle cx="534.4" cy="59.0" r="0.5" fill="#7c7c7c"/><circle cx="535.5" cy="52.4" r="0.5" fill="#353535"/><circle cx="529.8" cy="61.3" r="0.4" fill="#585858"/><circle cx="538.3" cy="59.8" r="0.4" fill="#636363"/><circle cx="535.0" cy="54.4" r="0.6" fill="#595959"/><circle cx="531.8" cy="55.7" r="0.5" fill="#444444"/><circle cx="526.3" cy="70.0" r="0.5" fill="#414141"/><circle cx="533.2" cy="61.2" r="0.7" fill="#616161"/><circle cx="525.4" cy="72.5" r="0.4" fill="#575757"/><circle cx="527.7" cy="67.5" r="0.5" fill="#7c7c7c"/><circle cx="532.7" cy="55.7" r="0.6" fill="#414141"/><circle cx="525.6" cy="71.7" r="0.4" fill="#383838"/><circle cx="530.7" cy="58.7" r="0.7" fill="#424242"/><circle cx="531.2" cy="69.0" r="0.4" fill="#494949"/><circle cx="520.1" cy="66.9" r="0.7" fill="#3d3d3d"/><circle cx="522.8" cy="63.7" r="0.7" fill="#353535"/><circle cx="525.1" cy="65.7" r="0.6" fill="#484848"/><circle cx="526.0" cy="61.2" r="0.7" fill="#383838"/><circle cx="536.3" cy="57.2" r="0.7" fill="#656565"/><circle cx="533.9" cy="62.2" r="0.6" fill="#595959"/><circle cx="538.3" cy="56.3" r="0.7" fill="#3d3d3d"/><circle cx="528.1" cy="63.9" r="0.7" fill="#404040"/><circle cx="524.9" cy="64.8" r="0.4" fill="#3c3c3c"/><circle cx="526.6" cy="67.3" r="0.4" fill="#939393"/><circle cx="529.4" cy="68.3" r="0.6" fill="#3a3a3a"/><circle cx="528.8" cy="61.3" r="0.6" fill="#595959"/><circle cx="523.0" cy="66.0" r="0.6" fill="#5d5d5d"/><circle cx="533.5" cy="59.8" r="0.7" fill="#383838"/><circle cx="525.8" cy="68.5" r="0.5" fill="#707070"/><circle cx="522.2" cy="68.1" r="0.4" fill="#525252"/><circle cx="540.0" cy="56.9" r="0.7" fill="#474747"/><circle cx="523.2" cy="71.5" r="0.5" fill="#6e6e6e"/><circle cx="530.5" cy="66.4" r="0.6" fill="#7a7a7a"/><circle cx="527.5" cy="65.7" r="0.7" fill="#4e4e4e"/><circle cx="522.8" cy="67.5" r="0.4" fill="#626262"/><circle cx="528.3" cy="62.4" r="0.7" fill="#535353"/><circle cx="540.1" cy="57.9" r="0.7" fill="#5a5a5a"/><circle cx="533.5" cy="67.2" r="0.6" fill="#515151"/><circle cx="537.5" cy="61.2" r="0.5" fill="#626262"/><circle cx="536.8" cy="59.2" r="0.4" fill="#3e3e3e"/><circle cx="523.5" cy="67.7" r="0.7" fill="#797979"/><circle cx="530.9" cy="58.4" r="0.5" fill="#3a3a3a"/></g>
<ellipse cx="538.0" cy="56.3" rx="8.0" ry="6.0" fill="#646464" style="filter:blur(1.8px)"/>
<ellipse cx="538.0" cy="56.3" rx="4.5" ry="3.0" fill="#3c3c3c" style="filter:blur(1.5px)"/>
<ellipse cx="530.0" cy="57.0" rx="2.5" ry="2.0" fill="#8c8c8c" style="filter:blur(1.2px)"/>
<ellipse cx="522.6" cy="66.4" rx="2.6" ry="2.2" fill="#a5a5a5" style="filter:blur(1.0px)"/>
<ellipse cx="520.1" cy="75.8" rx="4.6" ry="4.2" fill="#afafaf" style="filter:blur(1.4px)"/>
<ellipse cx="520.1" cy="75.8" rx="2.4" ry="2.2" fill="#ffffff" style="filter:blur(0.8px)"/>
<ellipse cx="548.9" cy="85" rx="6" ry="2.5" fill="#3a3a3a" style="filter:blur(1.2px)"/>
</g>
<clipPath id="cp6"><rect x="566.0" y="37.9" width="56.2" height="48"/></clipPath>
<rect x="566.0" y="37.9" width="56.2" height="48" fill="#000"/>
<g clip-path="url(#cp6)">
<line x1="592.0" y1="73.0" x2="612.0" y2="55.0" stroke="#363636" stroke-width="14.8" stroke-linecap="round" style="filter:blur(2.6px)"/>
<line x1="592.0" y1="73.0" x2="612.0" y2="55.0" stroke="#404040" stroke-width="11.1" stroke-linecap="round" style="filter:blur(1.5px)"/>
<g style="filter:blur(0.3px)"><circle cx="591.5" cy="76.4" r="0.5" fill="#686868"/><circle cx="601.4" cy="69.4" r="0.5" fill="#545454"/><circle cx="606.7" cy="58.2" r="0.6" fill="#717171"/><circle cx="595.1" cy="71.2" r="0.7" fill="#535353"/><circle cx="610.9" cy="59.3" r="0.7" fill="#454545"/><circle cx="594.9" cy="75.8" r="0.7" fill="#3b3b3b"/><circle cx="613.6" cy="55.1" r="0.4" fill="#6e6e6e"/><circle cx="607.2" cy="62.8" r="0.7" fill="#6f6f6f"/><circle cx="589.4" cy="72.8" r="0.6" fill="#4a4a4a"/><circle cx="594.3" cy="73.9" r="0.5" fill="#3f3f3f"/><circle cx="598.4" cy="60.8" r="0.4" fill="#434343"/><circle cx="598.1" cy="65.6" r="0.4" fill="#868686"/><circle cx="590.6" cy="72.9" r="0.6" fill="#5b5b5b"/><circle cx="611.3" cy="51.1" r="0.7" fill="#5c5c5c"/><circle cx="609.6" cy="64.2" r="0.5" fill="#3c3c3c"/><circle cx="609.3" cy="57.8" r="0.5" fill="#818181"/><circle cx="593.8" cy="73.0" r="0.5" fill="#4d4d4d"/><circle cx="612.1" cy="56.9" r="0.5" fill="#5b5b5b"/><circle cx="607.7" cy="55.7" r="0.6" fill="#747474"/><circle cx="611.0" cy="53.6" r="0.6" fill="#4d4d4d"/><circle cx="599.5" cy="66.1" r="0.7" fill="#979797"/><circle cx="593.2" cy="76.9" r="0.4" fill="#4e4e4e"/><circle cx="611.6" cy="61.0" r="0.5" fill="#3a3a3a"/><circle cx="591.2" cy="71.3" r="0.4" fill="#636363"/><circle cx="593.8" cy="74.0" r="0.5" fill="#767676"/><circle cx="606.9" cy="63.2" r="0.4" fill="#656565"/><circle cx="593.1" cy="74.2" r="0.7" fill="#7d7d7d"/><circle cx="611.0" cy="55.0" r="0.6" fill="#828282"/><circle cx="608.2" cy="57.5" r="0.5" fill="#7a7a7a"/><circle cx="612.6" cy="53.2" r="0.7" fill="#3c3c3c"/><circle cx="594.9" cy="76.1" r="0.6" fill="#3d3d3d"/><circle cx="616.2" cy="56.0" r="0.7" fill="#4f4f4f"/><circle cx="602.8" cy="62.6" r="0.5" fill="#444444"/><circle cx="592.0" cy="73.4" r="0.4" fill="#6f6f6f"/><circle cx="591.7" cy="69.4" r="0.4" fill="#505050"/><circle cx="596.9" cy="63.7" r="0.4" fill="#454545"/><circle cx="611.1" cy="54.3" r="0.4" fill="#535353"/><circle cx="596.4" cy="70.3" r="0.7" fill="#6a6a6a"/><circle cx="593.0" cy="69.0" r="0.5" fill="#4f4f4f"/><circle cx="608.5" cy="60.8" r="0.7" fill="#4e4e4e"/><circle cx="594.6" cy="74.4" r="0.4" fill="#444444"/><circle cx="591.2" cy="74.5" r="0.7" fill="#505050"/><circle cx="610.6" cy="62.8" r="0.4" fill="#3a3a3a"/><circle cx="614.3" cy="57.4" r="0.6" fill="#545454"/><circle cx="603.7" cy="58.6" r="0.5" fill="#393939"/><circle cx="602.0" cy="59.6" r="0.7" fill="#565656"/><circle cx="615.7" cy="55.4" r="0.6" fill="#5f5f5f"/><circle cx="593.1" cy="73.7" r="0.4" fill="#555555"/><circle cx="612.2" cy="53.7" r="0.7" fill="#3f3f3f"/><circle cx="592.5" cy="71.1" r="0.4" fill="#8b8b8b"/><circle cx="600.0" cy="67.4" r="0.6" fill="#6b6b6b"/><circle cx="599.5" cy="62.1" r="0.4" fill="#626262"/><circle cx="594.2" cy="70.1" r="0.7" fill="#6e6e6e"/><circle cx="604.0" cy="61.7" r="0.7" fill="#6f6f6f"/><circle cx="609.4" cy="62.9" r="0.5" fill="#4d4d4d"/><circle cx="608.5" cy="52.0" r="0.7" fill="#474747"/><circle cx="609.1" cy="54.7" r="0.5" fill="#3a3a3a"/><circle cx="614.9" cy="58.5" r="0.6" fill="#4d4d4d"/><circle cx="604.9" cy="66.3" r="0.5" fill="#3a3a3a"/><circle cx="616.9" cy="56.7" r="0.6" fill="#484848"/><circle cx="593.5" cy="73.5" r="0.6" fill="#434343"/><circle cx="598.7" cy="60.1" r="0.6" fill="#3a3a3a"/><circle cx="595.4" cy="63.8" r="0.6" fill="#4a4a4a"/><circle cx="591.4" cy="67.9" r="0.6" fill="#4d4d4d"/><circle cx="607.4" cy="58.4" r="0.4" fill="#737373"/><circle cx="603.6" cy="68.0" r="0.6" fill="#494949"/><circle cx="614.4" cy="55.1" r="0.7" fill="#494949"/><circle cx="593.4" cy="78.6" r="0.4" fill="#444444"/><circle cx="600.3" cy="67.7" r="0.4" fill="#767676"/><circle cx="601.9" cy="70.0" r="0.4" fill="#404040"/><circle cx="600.4" cy="63.7" r="0.4" fill="#636363"/><circle cx="588.3" cy="69.5" r="0.6" fill="#3c3c3c"/><circle cx="601.6" cy="61.6" r="0.6" fill="#737373"/><circle cx="611.1" cy="55.8" r="0.6" fill="#505050"/><circle cx="608.7" cy="53.0" r="0.6" fill="#464646"/><circle cx="601.9" cy="61.6" r="0.6" fill="#393939"/><circle cx="601.1" cy="66.4" r="0.6" fill="#6b6b6b"/><circle cx="597.7" cy="70.4" r="0.7" fill="#585858"/><circle cx="611.5" cy="51.9" r="0.5" fill="#464646"/><circle cx="614.2" cy="53.8" r="0.7" fill="#4a4a4a"/><circle cx="598.0" cy="70.3" r="0.5" fill="#636363"/><circle cx="594.7" cy="67.2" r="0.5" fill="#565656"/><circle cx="612.4" cy="58.5" r="0.6" fill="#3d3d3d"/><circle cx="603.9" cy="66.3" r="0.7" fill="#393939"/><circle cx="596.2" cy="74.3" r="0.6" fill="#545454"/><circle cx="591.9" cy="71.2" r="0.5" fill="#3c3c3c"/><circle cx="588.1" cy="71.5" r="0.5" fill="#3c3c3c"/><circle cx="607.7" cy="60.9" r="0.5" fill="#4f4f4f"/><circle cx="604.8" cy="64.1" r="0.6" fill="#5f5f5f"/><circle cx="600.2" cy="67.0" r="0.4" fill="#707070"/><circle cx="610.5" cy="54.0" r="0.5" fill="#464646"/><circle cx="610.7" cy="53.9" r="0.5" fill="#6c6c6c"/><circle cx="598.1" cy="69.1" r="0.5" fill="#404040"/><circle cx="608.3" cy="52.2" r="0.6" fill="#3f3f3f"/><circle cx="599.7" cy="63.0" r="0.5" fill="#777777"/><circle cx="606.6" cy="62.4" r="0.7" fill="#7d7d7d"/><circle cx="601.0" cy="62.2" r="0.5" fill="#767676"/><circle cx="599.7" cy="68.8" r="0.6" fill="#595959"/><circle cx="610.9" cy="58.0" r="0.7" fill="#777777"/><circle cx="598.8" cy="71.9" r="0.5" fill="#595959"/><circle cx="604.1" cy="60.6" r="0.4" fill="#808080"/><circle cx="612.7" cy="52.9" r="0.5" fill="#575757"/><circle cx="601.2" cy="69.3" r="0.6" fill="#383838"/><circle cx="597.4" cy="73.8" r="0.6" fill="#3b3b3b"/></g>
<ellipse cx="614.0" cy="54.0" rx="3.0" ry="2.5" fill="#7d7d7d" style="filter:blur(1.3px)"/>
<ellipse cx="594.0" cy="70.0" rx="4.0" ry="3.0" fill="#8c8c8c" style="filter:blur(1.3px)"/>
<ellipse cx="590.4" cy="75.6" rx="4.2" ry="3.6" fill="#aaaaaa" style="filter:blur(1.4px)"/>
<ellipse cx="590.4" cy="75.6" rx="2.2" ry="1.8" fill="#ffffff" style="filter:blur(0.8px)"/>
<ellipse cx="619.2" cy="85" rx="6" ry="2.5" fill="#3a3a3a" style="filter:blur(1.2px)"/>
</g>
<text transform="translate(98.3,31.6) scale(1.13,1)" text-anchor="middle" class="pt">0</text>
<text transform="translate(240.5,31.6) scale(1.13,1)" text-anchor="middle" class="pt">0.5</text>
<text transform="translate(311.8,31.6) scale(1.13,1)" text-anchor="middle" class="pt">4.5</text>
<text transform="translate(384.1,31.6) scale(1.13,1)" text-anchor="middle" class="pt">8.5</text>
<text transform="translate(523.8,31.6) scale(1.13,1)" text-anchor="middle" class="pt">192.5</text>
<text transform="translate(594.1,31.6) scale(1.13,1)" text-anchor="middle" class="pt">256.5</text>
<text transform="translate(140.6,17.8) scale(1.03,1)" class="pb">Photobleached</text>
<path d="M167,19.6 V32" stroke="#1a1ad2" stroke-width="2"/><path d="M164.1,31.4 L169.9,31.4 L167,37.2 Z" fill="#1a1ad2"/>
<text transform="translate(81,95.6) scale(0.985,1)" class="mo">Motor</text>
<path d="M422.3,62.2 H468.2" stroke="#000" stroke-width="2.7" stroke-dasharray="7.9 3.1 2.3 3.05"/><path d="M470.8,58.4 L479.6,62.2 L470.8,66 Z" fill="#000"/>
<text transform="translate(114,488.2) scale(1.0,1)" text-anchor="end" class="tl">0.0</text>
<text transform="translate(114,417.2) scale(1.0,1)" text-anchor="end" class="tl">0.2</text>
<text transform="translate(114,346.2) scale(1.0,1)" text-anchor="end" class="tl">0.4</text>
<text transform="translate(114,275.2) scale(1.0,1)" text-anchor="end" class="tl">0.6</text>
<text transform="translate(114,204.2) scale(1.0,1)" text-anchor="end" class="tl">0.8</text>
<text transform="translate(114,133.2) scale(1.0,1)" text-anchor="end" class="tl">1.0</text>
<text x="122.6" y="505.8" text-anchor="middle" class="tl">0</text>
<text x="170.3" y="505.8" text-anchor="middle" class="tl">10</text>
<text x="218.0" y="505.8" text-anchor="middle" class="tl">20</text>
<text x="265.7" y="505.8" text-anchor="middle" class="tl">30</text>
<text x="313.4" y="505.8" text-anchor="middle" class="tl">40</text>
<text x="361.1" y="505.8" text-anchor="middle" class="tl">50</text>
<text x="408.8" y="505.8" text-anchor="middle" class="tl">60</text>
<text x="519.0" y="505.8" text-anchor="middle" class="tl">200</text>
<text transform="translate(360,525.6) scale(1.06,1)" text-anchor="middle" class="al">Time (s)</text>
<text transform="translate(73.3,318.6) rotate(-90) scale(1.043,1)" text-anchor="middle" class="al">Normalized ROI intensity (a.u.)</text>
<text transform="translate(2.2,122.6) scale(1.12,1)" class="pl">(B)</text>
<rect x="421.4" y="160.6" width="7.5" height="7.5" fill="#9a9cf0"/>
<circle cx="425" cy="179.1" r="4" fill="#7ce87c"/>
<path d="M425.2,188.9 L430.1,196.9 L420.3,196.9 Z" fill="#ee2a2a"/>
<text transform="translate(441,169.2) scale(1.04,1)" class="lg">eGFP-Stator/+FliL</text>
<text transform="translate(441,183.8) scale(1.04,1)" class="lg">eGFP-Stator/<tspan style="font-size:10px;fill:#444">Δ</tspan>FliL</text>
<text transform="translate(441,198) scale(1.04,1)" class="lg">Stator/eGFP-FliL</text>
<line x1="122.6" y1="483.0" x2="130.1" y2="483.0" stroke="#000" stroke-width="2"/>
<line x1="122.6" y1="447.5" x2="126.8" y2="447.5" stroke="#000" stroke-width="2"/>
<line x1="122.6" y1="412.0" x2="130.1" y2="412.0" stroke="#000" stroke-width="2"/>
<line x1="606.0" y1="412.0" x2="598.5" y2="412.0" stroke="#000" stroke-width="2"/>
<line x1="122.6" y1="376.5" x2="126.8" y2="376.5" stroke="#000" stroke-width="2"/>
<line x1="122.6" y1="341.0" x2="130.1" y2="341.0" stroke="#000" stroke-width="2"/>
<line x1="606.0" y1="341.0" x2="598.5" y2="341.0" stroke="#000" stroke-width="2"/>
<line x1="122.6" y1="305.5" x2="126.8" y2="305.5" stroke="#000" stroke-width="2"/>
<line x1="122.6" y1="270.0" x2="130.1" y2="270.0" stroke="#000" stroke-width="2"/>
<line x1="606.0" y1="270.0" x2="598.5" y2="270.0" stroke="#000" stroke-width="2"/>
<line x1="122.6" y1="234.5" x2="126.8" y2="234.5" stroke="#000" stroke-width="2"/>
<line x1="122.6" y1="199.0" x2="130.1" y2="199.0" stroke="#000" stroke-width="2"/>
<line x1="606.0" y1="199.0" x2="598.5" y2="199.0" stroke="#000" stroke-width="2"/>
<line x1="122.6" y1="163.5" x2="126.8" y2="163.5" stroke="#000" stroke-width="2"/>
<line x1="122.6" y1="128.0" x2="130.1" y2="128.0" stroke="#000" stroke-width="2"/>
<line x1="170.3" y1="483.0" x2="170.3" y2="475.5" stroke="#000" stroke-width="2"/>
<line x1="170.3" y1="127.9" x2="170.3" y2="135.4" stroke="#000" stroke-width="2"/>
<line x1="218.0" y1="483.0" x2="218.0" y2="475.5" stroke="#000" stroke-width="2"/>
<line x1="218.0" y1="127.9" x2="218.0" y2="135.4" stroke="#000" stroke-width="2"/>
<line x1="265.7" y1="483.0" x2="265.7" y2="475.5" stroke="#000" stroke-width="2"/>
<line x1="265.7" y1="127.9" x2="265.7" y2="135.4" stroke="#000" stroke-width="2"/>
<line x1="313.4" y1="483.0" x2="313.4" y2="475.5" stroke="#000" stroke-width="2"/>
<line x1="313.4" y1="127.9" x2="313.4" y2="135.4" stroke="#000" stroke-width="2"/>
<line x1="361.1" y1="483.0" x2="361.1" y2="475.5" stroke="#000" stroke-width="2"/>
<line x1="361.1" y1="127.9" x2="361.1" y2="135.4" stroke="#000" stroke-width="2"/>
<line x1="408.8" y1="483.0" x2="408.8" y2="475.5" stroke="#000" stroke-width="2"/>
<line x1="408.8" y1="127.9" x2="408.8" y2="135.4" stroke="#000" stroke-width="2"/>
<line x1="519.0" y1="483.0" x2="519.0" y2="475.5" stroke="#000" stroke-width="2"/>
<line x1="519.0" y1="127.9" x2="519.0" y2="135.4" stroke="#000" stroke-width="2"/>
<path d="M125.0,329.0 V349.0 M120.5,329.0 h9.0 M120.5,349.0 h9.0" stroke="#9a9cf0" stroke-width="1.9" fill="none"/>
<path d="M134.5,302.9 V325.9 M130.0,302.9 h9.0 M130.0,325.9 h9.0" stroke="#9a9cf0" stroke-width="1.9" fill="none"/>
<path d="M144.1,275.5 V298.9 M139.6,275.5 h9.0 M139.6,298.9 h9.0" stroke="#9a9cf0" stroke-width="1.9" fill="none"/>
<path d="M163.1,269.9 V291.5 M158.6,269.9 h9.0 M158.6,291.5 h9.0" stroke="#9a9cf0" stroke-width="1.9" fill="none"/>
<path d="M201.3,241.8 V265.2 M196.8,241.8 h9.0 M196.8,265.2 h9.0" stroke="#9a9cf0" stroke-width="1.9" fill="none"/>
<path d="M277.6,248.3 V267.7 M273.1,248.3 h9.0 M273.1,267.7 h9.0" stroke="#9a9cf0" stroke-width="1.9" fill="none"/>
<path d="M430.3,234.7 V258.5 M425.8,234.7 h9.0 M425.8,258.5 h9.0" stroke="#9a9cf0" stroke-width="1.9" fill="none"/>
<path d="M510.9,230.7 V253.9 M506.4,230.7 h9.0 M506.4,253.9 h9.0" stroke="#9a9cf0" stroke-width="1.9" fill="none"/>
<path d="M579.9,235.0 V255.0 M575.4,235.0 h9.0 M575.4,255.0 h9.0" stroke="#9a9cf0" stroke-width="1.9" fill="none"/>
<rect x="121.2" y="335.2" width="7.5" height="7.5" fill="#9a9cf0"/>
<rect x="130.8" y="310.6" width="7.5" height="7.5" fill="#9a9cf0"/>
<rect x="140.3" y="283.4" width="7.5" height="7.5" fill="#9a9cf0"/>
<rect x="159.4" y="276.9" width="7.5" height="7.5" fill="#9a9cf0"/>
<rect x="197.6" y="249.8" width="7.5" height="7.5" fill="#9a9cf0"/>
<rect x="273.9" y="254.2" width="7.5" height="7.5" fill="#9a9cf0"/>
<rect x="426.5" y="242.8" width="7.5" height="7.5" fill="#9a9cf0"/>
<rect x="507.2" y="238.6" width="7.5" height="7.5" fill="#9a9cf0"/>
<rect x="576.2" y="241.2" width="7.5" height="7.5" fill="#9a9cf0"/>
<path d="M125.0,347.0 V365.0 M120.5,347.0 h9.0 M120.5,365.0 h9.0" stroke="#7ce87c" stroke-width="1.9" fill="none"/>
<path d="M134.5,321.8 V337.8 M130.0,321.8 h9.0 M130.0,337.8 h9.0" stroke="#7ce87c" stroke-width="1.9" fill="none"/>
<path d="M144.1,312.5 V329.5 M139.6,312.5 h9.0 M139.6,329.5 h9.0" stroke="#7ce87c" stroke-width="1.9" fill="none"/>
<path d="M163.1,285.6 V307.6 M158.6,285.6 h9.0 M158.6,307.6 h9.0" stroke="#7ce87c" stroke-width="1.9" fill="none"/>
<path d="M201.3,269.4 V288.2 M196.8,269.4 h9.0 M196.8,288.2 h9.0" stroke="#7ce87c" stroke-width="1.9" fill="none"/>
<path d="M277.6,261.0 V290.0 M273.1,261.0 h9.0 M273.1,290.0 h9.0" stroke="#7ce87c" stroke-width="1.9" fill="none"/>
<path d="M430.3,247.3 V276.7 M425.8,247.3 h9.0 M425.8,276.7 h9.0" stroke="#7ce87c" stroke-width="1.9" fill="none"/>
<path d="M510.9,244.3 V272.3 M506.4,244.3 h9.0 M506.4,272.3 h9.0" stroke="#7ce87c" stroke-width="1.9" fill="none"/>
<path d="M579.9,251.6 V273.6 M575.4,251.6 h9.0 M575.4,273.6 h9.0" stroke="#7ce87c" stroke-width="1.9" fill="none"/>
<circle cx="125.0" cy="356.0" r="4" fill="#7ce87c"/>
<circle cx="134.5" cy="329.8" r="4" fill="#7ce87c"/>
<circle cx="144.1" cy="321.0" r="4" fill="#7ce87c"/>
<circle cx="163.1" cy="296.6" r="4" fill="#7ce87c"/>
<circle cx="201.3" cy="278.8" r="4" fill="#7ce87c"/>
<circle cx="277.6" cy="275.5" r="4" fill="#7ce87c"/>
<circle cx="430.3" cy="262.0" r="4" fill="#7ce87c"/>
<circle cx="510.9" cy="258.3" r="4" fill="#7ce87c"/>
<circle cx="579.9" cy="262.6" r="4" fill="#7ce87c"/>
<path d="M125.0,349.0 V370.0 M120.5,349.0 h9.0 M120.5,370.0 h9.0" stroke="#ee2a2a" stroke-width="1.9" fill="none"/>
<path d="M134.5,335.2 V353.8 M130.0,335.2 h9.0 M130.0,353.8 h9.0" stroke="#ee2a2a" stroke-width="1.9" fill="none"/>
<path d="M144.1,308.4 V327.6 M139.6,308.4 h9.0 M139.6,327.6 h9.0" stroke="#ee2a2a" stroke-width="1.9" fill="none"/>
<path d="M163.1,302.2 V320.8 M158.6,302.2 h9.0 M158.6,320.8 h9.0" stroke="#ee2a2a" stroke-width="1.9" fill="none"/>
<path d="M201.3,283.1 V301.9 M196.8,283.1 h9.0 M196.8,301.9 h9.0" stroke="#ee2a2a" stroke-width="1.9" fill="none"/>
<path d="M277.6,270.8 V298.2 M273.1,270.8 h9.0 M273.1,298.2 h9.0" stroke="#ee2a2a" stroke-width="1.9" fill="none"/>
<path d="M430.3,272.8 V294.2 M425.8,272.8 h9.0 M425.8,294.2 h9.0" stroke="#ee2a2a" stroke-width="1.9" fill="none"/>
<path d="M510.9,269.1 V294.9 M506.4,269.1 h9.0 M506.4,294.9 h9.0" stroke="#ee2a2a" stroke-width="1.9" fill="none"/>
<path d="M579.9,266.8 V290.4 M575.4,266.8 h9.0 M575.4,290.4 h9.0" stroke="#ee2a2a" stroke-width="1.9" fill="none"/>
<path d="M125.0,354.7 L130.0,363.1 L120.0,363.1 Z" fill="#ee2a2a"/>
<path d="M134.5,339.7 L139.5,348.1 L129.5,348.1 Z" fill="#ee2a2a"/>
<path d="M144.1,313.2 L149.1,321.6 L139.1,321.6 Z" fill="#ee2a2a"/>
<path d="M163.1,306.7 L168.1,315.1 L158.1,315.1 Z" fill="#ee2a2a"/>
<path d="M201.3,287.7 L206.3,296.1 L196.3,296.1 Z" fill="#ee2a2a"/>
<path d="M277.6,279.7 L282.6,288.1 L272.6,288.1 Z" fill="#ee2a2a"/>
<path d="M430.3,278.7 L435.3,287.1 L425.3,287.1 Z" fill="#ee2a2a"/>
<path d="M510.9,277.2 L515.9,285.6 L505.9,285.6 Z" fill="#ee2a2a"/>
<path d="M579.9,273.8 L584.9,282.2 L574.9,282.2 Z" fill="#ee2a2a"/>
<path d="M124.5,338.4 L127.3,331.1 L130.0,324.4 L132.8,318.2 L135.6,312.6 L138.3,307.3 L141.1,302.6 L143.9,298.1 L146.6,294.1 L149.4,290.4 L152.2,286.9 L154.9,283.8 L157.7,280.9 L160.5,278.2 L163.2,275.8 L166.0,273.5 L168.8,271.5 L171.5,269.6 L174.3,267.8 L177.1,266.2 L179.8,264.7 L182.6,263.4 L185.4,262.1 L188.1,261.0 L190.9,259.9 L193.7,259.0 L196.4,258.1 L199.2,257.3 L202.0,256.5 L204.7,255.8 L207.5,255.2 L210.3,254.6 L213.0,254.0 L215.8,253.5 L218.6,253.1 L221.3,252.7 L224.1,252.3 L226.9,251.9 L229.6,251.6 L232.4,251.3 L235.2,251.0 L237.9,250.8 L240.7,250.6 L243.5,250.3 L246.2,250.1 L249.0,250.0 L251.8,249.8 L254.5,249.6 L257.3,249.5 L260.1,249.4 L262.8,249.3 L265.6,249.1 L268.4,249.0 L271.1,249.0 L273.9,248.9 L276.7,248.8 L279.4,248.7 L282.2,248.7 L285.0,248.6 L287.7,248.5 L290.5,248.5 L293.3,248.4 L296.0,248.4 L298.8,248.4 L301.6,248.3 L304.3,248.3 L307.1,248.3 L309.9,248.2 L312.6,248.2 L315.4,248.2 L318.2,248.2 L320.9,248.1 L323.7,248.1 L326.5,248.1 L329.2,248.1 L332.0,248.1 L334.8,248.1 L337.5,248.0 L340.3,248.0 L343.1,248.0 L345.8,248.0 L348.6,248.0 L351.4,248.0 L354.1,248.0 L356.9,248.0 L359.7,248.0 L362.4,248.0 L365.2,248.0 L368.0,248.0 L370.7,248.0 L373.5,247.9 L376.3,247.9 L379.0,247.9 L381.8,247.9 L384.6,247.9 L387.3,247.9 L390.1,247.9 L392.9,247.9 L395.6,247.9 L398.4,247.9 L401.2,247.9 L403.9,247.9 L406.7,247.9 L409.5,247.9 L412.2,247.9 L415.0,247.9 L417.8,247.9 L420.5,247.9 L423.3,247.9 L426.1,247.9 L428.8,247.9 L431.6,247.9 L434.4,247.9 L437.1,247.9 L439.9,247.9 L442.7,247.9 L445.4,247.9 L448.2,247.9 L451.0,247.9 L453.7,247.9 L456.5,247.9" stroke="#2a2abc" stroke-width="1.6" fill="none"/>
<path d="M465.2,247.9 L581.0,247.9" stroke="#2a2abc" stroke-width="1.6" fill="none"/>
<path d="M124.5,357.8 L127.3,351.7 L130.0,345.9 L132.8,340.5 L135.6,335.5 L138.3,330.8 L141.1,326.4 L143.9,322.2 L146.6,318.3 L149.4,314.7 L152.2,311.3 L154.9,308.1 L157.7,305.1 L160.5,302.3 L163.2,299.7 L166.0,297.2 L168.8,294.9 L171.5,292.8 L174.3,290.7 L177.1,288.8 L179.8,287.1 L182.6,285.4 L185.4,283.8 L188.1,282.4 L190.9,281.0 L193.7,279.7 L196.4,278.5 L199.2,277.4 L202.0,276.4 L204.7,275.4 L207.5,274.4 L210.3,273.6 L213.0,272.8 L215.8,272.0 L218.6,271.3 L221.3,270.6 L224.1,270.0 L226.9,269.4 L229.6,268.9 L232.4,268.3 L235.2,267.9 L237.9,267.4 L240.7,267.0 L243.5,266.6 L246.2,266.2 L249.0,265.9 L251.8,265.5 L254.5,265.2 L257.3,265.0 L260.1,264.7 L262.8,264.4 L265.6,264.2 L268.4,264.0 L271.1,263.8 L273.9,263.6 L276.7,263.4 L279.4,263.2 L282.2,263.1 L285.0,262.9 L287.7,262.8 L290.5,262.6 L293.3,262.5 L296.0,262.4 L298.8,262.3 L301.6,262.2 L304.3,262.1 L307.1,262.0 L309.9,261.9 L312.6,261.9 L315.4,261.8 L318.2,261.7 L320.9,261.6 L323.7,261.6 L326.5,261.5 L329.2,261.5 L332.0,261.4 L334.8,261.4 L337.5,261.3 L340.3,261.3 L343.1,261.3 L345.8,261.2 L348.6,261.2 L351.4,261.2 L354.1,261.1 L356.9,261.1 L359.7,261.1 L362.4,261.1 L365.2,261.0 L368.0,261.0 L370.7,261.0 L373.5,261.0 L376.3,261.0 L379.0,260.9 L381.8,260.9 L384.6,260.9 L387.3,260.9 L390.1,260.9 L392.9,260.9 L395.6,260.9 L398.4,260.9 L401.2,260.8 L403.9,260.8 L406.7,260.8 L409.5,260.8 L412.2,260.8 L415.0,260.8 L417.8,260.8 L420.5,260.8 L423.3,260.8 L426.1,260.8 L428.8,260.8 L431.6,260.8 L434.4,260.8 L437.1,260.8 L439.9,260.8 L442.7,260.8 L445.4,260.8 L448.2,260.7 L451.0,260.7 L453.7,260.7 L456.5,260.7" stroke="#229a48" stroke-width="1.6" fill="none"/>
<path d="M465.2,260.7 L581.0,260.7" stroke="#229a48" stroke-width="1.6" fill="none"/>
<path d="M124.5,359.2 L127.3,353.5 L130.0,348.2 L132.8,343.3 L135.6,338.8 L138.3,334.5 L141.1,330.6 L143.9,327.0 L146.6,323.6 L149.4,320.5 L152.2,317.6 L154.9,314.9 L157.7,312.4 L160.5,310.1 L163.2,308.0 L166.0,306.0 L168.8,304.2 L171.5,302.4 L174.3,300.9 L177.1,299.4 L179.8,298.0 L182.6,296.8 L185.4,295.6 L188.1,294.5 L190.9,293.5 L193.7,292.6 L196.4,291.7 L199.2,290.9 L202.0,290.1 L204.7,289.4 L207.5,288.8 L210.3,288.2 L213.0,287.7 L215.8,287.1 L218.6,286.7 L221.3,286.2 L224.1,285.8 L226.9,285.4 L229.6,285.1 L232.4,284.8 L235.2,284.5 L237.9,284.2 L240.7,283.9 L243.5,283.7 L246.2,283.5 L249.0,283.3 L251.8,283.1 L254.5,282.9 L257.3,282.7 L260.1,282.6 L262.8,282.4 L265.6,282.3 L268.4,282.2 L271.1,282.1 L273.9,281.9 L276.7,281.8 L279.4,281.8 L282.2,281.7 L285.0,281.6 L287.7,281.5 L290.5,281.5 L293.3,281.4 L296.0,281.3 L298.8,281.3 L301.6,281.2 L304.3,281.2 L307.1,281.1 L309.9,281.1 L312.6,281.1 L315.4,281.0 L318.2,281.0 L320.9,281.0 L323.7,280.9 L326.5,280.9 L329.2,280.9 L332.0,280.9 L334.8,280.9 L337.5,280.8 L340.3,280.8 L343.1,280.8 L345.8,280.8 L348.6,280.8 L351.4,280.8 L354.1,280.8 L356.9,280.7 L359.7,280.7 L362.4,280.7 L365.2,280.7 L368.0,280.7 L370.7,280.7 L373.5,280.7 L376.3,280.7 L379.0,280.7 L381.8,280.7 L384.6,280.7 L387.3,280.7 L390.1,280.7 L392.9,280.7 L395.6,280.6 L398.4,280.6 L401.2,280.6 L403.9,280.6 L406.7,280.6 L409.5,280.6 L412.2,280.6 L415.0,280.6 L417.8,280.6 L420.5,280.6 L423.3,280.6 L426.1,280.6 L428.8,280.6 L431.6,280.6 L434.4,280.6 L437.1,280.6 L439.9,280.6 L442.7,280.6 L445.4,280.6 L448.2,280.6 L451.0,280.6 L453.7,280.6 L456.5,280.6" stroke="#dc2c2c" stroke-width="1.6" fill="none"/>
<path d="M465.2,280.6 L581.0,280.6" stroke="#dc2c2c" stroke-width="1.6" fill="none"/>
<line x1="122.6" y1="126.9" x2="122.6" y2="484.0" stroke="#000" stroke-width="2"/>
<line x1="606.0" y1="126.9" x2="606.0" y2="484.0" stroke="#000" stroke-width="2"/>
<line x1="122.6" y1="127.9" x2="456.5" y2="127.9" stroke="#000" stroke-width="2"/>
<line x1="465.5" y1="127.9" x2="606.0" y2="127.9" stroke="#000" stroke-width="2"/>
<path d="M452.6,135.5 L461.1,120.3 M460.8,135.5 L469.4,120.3" stroke="#000" stroke-width="2"/>
<line x1="122.6" y1="483.0" x2="456.5" y2="483.0" stroke="#000" stroke-width="2"/>
<line x1="465.5" y1="483.0" x2="606.0" y2="483.0" stroke="#000" stroke-width="2"/>
<path d="M452.6,490.6 L461.1,475.4 M460.8,490.6 L469.4,475.4" stroke="#000" stroke-width="2"/>
<rect x="367.5" y="323.5" width="180.0" height="122.0" fill="#fff" stroke="none"/>
<line x1="367.5" y1="418.4" x2="547.5" y2="418.4" stroke="#efefef" stroke-width="0.8" stroke-dasharray="1 1.5"/>
<line x1="367.5" y1="391.3" x2="547.5" y2="391.3" stroke="#efefef" stroke-width="0.8" stroke-dasharray="1 1.5"/>
<line x1="367.5" y1="364.2" x2="547.5" y2="364.2" stroke="#efefef" stroke-width="0.8" stroke-dasharray="1 1.5"/>
<line x1="367.5" y1="337.1" x2="547.5" y2="337.1" stroke="#efefef" stroke-width="0.8" stroke-dasharray="1 1.5"/>
<rect x="367.5" y="323.5" width="180.0" height="122.0" fill="none" stroke="#4a4a4a" stroke-width="1.1"/>
<line x1="367.5" y1="445.5" x2="369.5" y2="445.5" stroke="#333" stroke-width="0.8"/>
<line x1="547.5" y1="445.5" x2="545.5" y2="445.5" stroke="#333" stroke-width="0.8"/>
<text x="364.8" y="447.7" text-anchor="end" class="it">3</text>
<line x1="367.5" y1="418.4" x2="369.5" y2="418.4" stroke="#333" stroke-width="0.8"/>
<line x1="547.5" y1="418.4" x2="545.5" y2="418.4" stroke="#333" stroke-width="0.8"/>
<text x="364.8" y="420.6" text-anchor="end" class="it">4</text>
<line x1="367.5" y1="391.3" x2="369.5" y2="391.3" stroke="#333" stroke-width="0.8"/>
<line x1="547.5" y1="391.3" x2="545.5" y2="391.3" stroke="#333" stroke-width="0.8"/>
<text x="364.8" y="393.5" text-anchor="end" class="it">5</text>
<line x1="367.5" y1="364.2" x2="369.5" y2="364.2" stroke="#333" stroke-width="0.8"/>
<line x1="547.5" y1="364.2" x2="545.5" y2="364.2" stroke="#333" stroke-width="0.8"/>
<text x="364.8" y="366.4" text-anchor="end" class="it">6</text>
<line x1="367.5" y1="337.1" x2="369.5" y2="337.1" stroke="#333" stroke-width="0.8"/>
<line x1="547.5" y1="337.1" x2="545.5" y2="337.1" stroke="#333" stroke-width="0.8"/>
<text x="364.8" y="339.3" text-anchor="end" class="it">7</text>
<line x1="397.2" y1="323.5" x2="397.2" y2="325.5" stroke="#333" stroke-width="0.8"/>
<line x1="397.2" y1="445.5" x2="397.2" y2="443.5" stroke="#333" stroke-width="0.8"/>
<path d="M397.2,379.1 V421.7 M395.7,379.1 h3 M395.7,421.7 h3" stroke="#1a1ad0" stroke-width="1" fill="none"/>
<circle cx="397.2" cy="400.8" r="1.6" fill="#1a1ad0"/>
<line x1="457.4" y1="323.5" x2="457.4" y2="325.5" stroke="#333" stroke-width="0.8"/>
<line x1="457.4" y1="445.5" x2="457.4" y2="443.5" stroke="#333" stroke-width="0.8"/>
<path d="M457.4,336.3 V378.8 M455.9,336.3 h3 M455.9,378.8 h3" stroke="#1f7a2a" stroke-width="1" fill="none"/>
<circle cx="457.4" cy="357.4" r="1.6" fill="#1f7a2a"/>
<line x1="517.2" y1="323.5" x2="517.2" y2="325.5" stroke="#333" stroke-width="0.8"/>
<line x1="517.2" y1="445.5" x2="517.2" y2="443.5" stroke="#333" stroke-width="0.8"/>
<path d="M517.2,357.7 V401.1 M515.7,357.7 h3 M515.7,401.1 h3" stroke="#e03030" stroke-width="1" fill="none"/>
<path d="M517.2,377.4 l2,3.2 h-4 Z" fill="#e03030"/>
<text transform="translate(351.9,390.1) rotate(-90) scale(0.985,1)" text-anchor="middle" class="iyl">Turn over half-time (s)</text>
<text transform="translate(397.8,462.7) rotate(-13.5) scale(0.81,1)" text-anchor="middle" class="ixl">eGFP-Stator/+FliL</text>
<text transform="translate(457.3,461.7) rotate(-13.5) scale(0.81,1)" text-anchor="middle" class="ixl">eGFP-Stator/ΔFliL</text>
<text transform="translate(519.7,461.2) rotate(-13.5) scale(0.81,1)" text-anchor="middle" class="ixl">Stator/eGFP-FliL</text>
</svg>
</body></html>
